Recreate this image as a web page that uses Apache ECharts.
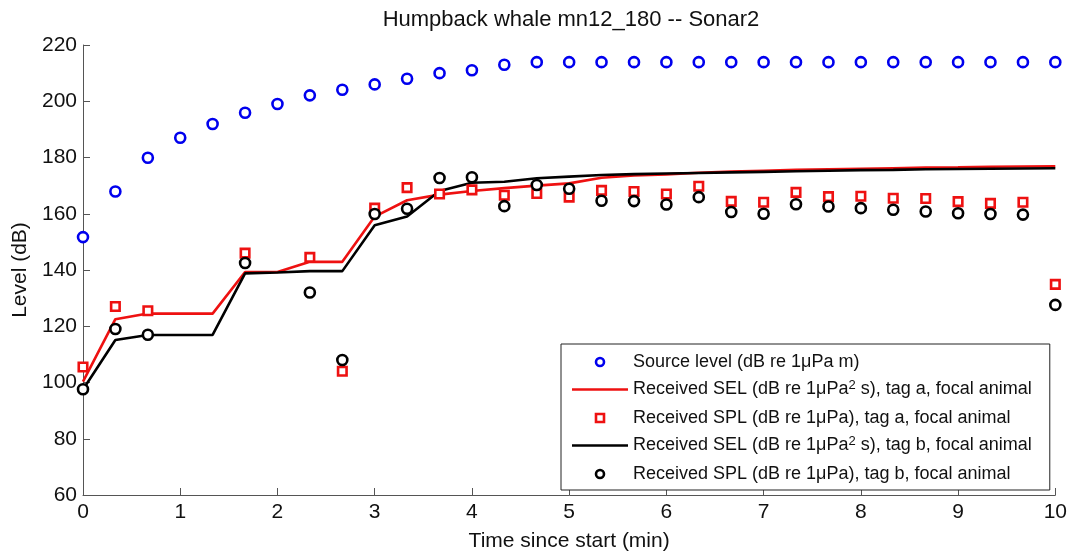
<!DOCTYPE html>
<html>
<head>
<meta charset="utf-8">
<title>Humpback whale mn12_180 -- Sonar2</title>
<script src="https://cdn.jsdelivr.net/npm/echarts@6/dist/echarts.min.js"></script>
<style>
  html, body { margin: 0; padding: 0; background: #fff; }
  #main { width: 1070px; height: 559px; }
</style>
</head>
<body>
<div id="main"></div>
<script>
// time since start (min), one value every 20 s
var time = [0, 0.333, 0.667, 1, 1.333, 1.667, 2, 2.333, 2.667, 3, 3.333, 3.667, 4, 4.333, 4.667,
    5, 5.333, 5.667, 6, 6.333, 6.667, 7, 7.333, 7.667, 8, 8.333, 8.667, 9, 9.333, 9.667, 10];

// source level (dB re 1uPa m)
var sourceLevel = [151.7, 167.9, 179.9, 187, 191.9, 195.9, 199, 202.1, 204.1, 206, 208, 210, 211, 213, 213.9,
    213.9, 213.9, 213.9, 213.9, 213.9, 213.9, 213.9, 213.9, 213.9, 213.9, 213.9, 213.9, 213.9, 213.9, 213.9, 213.9];

// cumulative SEL, tag a / tag b
var selA = [100.3, 122.5, 124.5, 124.5, 124.5, 139.3, 139.3, 142.9, 142.9, 159, 164.8, 166.8, 168.1, 169.1, 170,
    170.8, 172.8, 173.6, 174, 174.6, 175, 175.3, 175.6, 175.8, 176, 176.2, 176.4, 176.5, 176.7, 176.8, 176.9];
var selB = [97.5, 115.1, 116.9, 116.9, 116.9, 138.8, 139.1, 139.6, 139.6, 155.9, 159, 168.1, 171, 171.4, 172.6,
    173.2, 173.8, 174.1, 174.3, 174.5, 174.7, 174.9, 175.1, 175.3, 175.5, 175.6, 175.8, 175.9, 176, 176.1, 176.2];

// SPL per 20 s window, tag a / tag b (null = no value)
var splA = [105.5, 127, 125.5, null, null, 146, null, 144.5, 104, 162, 169.3, 167, 168.5, 166.6, 167.2,
    165.9, 168.3, 167.9, 167, 169.8, 164.4, 164.1, 167.6, 166.1, 166.2, 165.5, 165.4, 164.3, 163.7, 164.1, 134.9];
var splB = [97.6, 119, 117, null, null, 142.5, null, 132, 108, 159.9, 161.8, 172.7, 173, 162.7, 170.2,
    168.9, 164.6, 164.5, 163.3, 165.9, 160.6, 160, 163.4, 162.6, 162, 161.4, 160.8, 160.2, 159.9, 159.7, 127.6];

var names = [
    'Source level (dB re 1μPa m)',
    'Received SEL (dB re 1μPa² s), tag a, focal animal',
    'Received SPL (dB re 1μPa), tag a, focal animal',
    'Received SEL (dB re 1μPa² s), tag b, focal animal',
    'Received SPL (dB re 1μPa), tag b, focal animal'
];

function pairs(vals) {
    var out = [];
    for (var i = 0; i < time.length; i++) {
        if (vals[i] !== null) out.push([time[i], vals[i]]);
    }
    return out;
}

var font = 'Liberation Sans, Arial, Helvetica, sans-serif';
var lineIcon = 'path://M0,0L56,0L56,2.5L0,2.5Z';
var squareIcon = 'path://M0,0L10,0L10,10L0,10Z';

var chart = echarts.init(document.getElementById('main'));

chart.setOption({
    animation: false,
    backgroundColor: '#fff',
    title: {
        text: 'Humpback whale mn12_180 -- Sonar2',
        left: 566,
        textAlign: 'center',
        top: 4,
        textStyle: { fontFamily: font, fontSize: 22, fontWeight: 'normal', color: '#111' }
    },
    grid: { left: 83, right: 14, top: 45, bottom: 64, containLabel: false },
    legend: {
        orient: 'vertical',
        left: 561,
        top: 344,
        padding: [7, 18, 5, 11],
        itemWidth: 56,
        itemHeight: 8,
        itemGap: 5.5,
        backgroundColor: '#fff',
        borderColor: '#222',
        borderWidth: 1,
        borderRadius: 0,
        data: [
            { name: names[0], itemStyle: { borderWidth: 2.6 } },
            { name: names[1], icon: lineIcon },
            { name: names[2], icon: squareIcon, itemStyle: { borderWidth: 2.6 } },
            { name: names[3], icon: lineIcon },
            { name: names[4], itemStyle: { borderWidth: 2.6 } }
        ],
        formatter: function (name) {
            return name.replace('²', '{sup|2}');
        },
        textStyle: {
            fontFamily: font,
            fontSize: 18,
            color: '#111',
            lineHeight: 22,
            rich: {
                sup: { fontFamily: font, fontSize: 13, color: '#111', verticalAlign: 'top', lineHeight: 22, padding: [0, 0, 10, 0] }
            }
        }
    },
    xAxis: {
        type: 'value',
        min: 0,
        max: 10,
        interval: 1,
        name: 'Time since start (min)',
        nameLocation: 'middle',
        nameGap: 36,
        nameTextStyle: { fontFamily: font, fontSize: 21, color: '#111' },
        axisLine: { lineStyle: { color: '#555', width: 1 } },
        axisTick: { inside: true, length: 7, lineStyle: { color: '#555' } },
        axisLabel: { fontFamily: font, fontSize: 21, color: '#111', margin: 7 },
        splitLine: { show: false }
    },
    yAxis: {
        type: 'value',
        min: 60,
        max: 220,
        interval: 20,
        name: 'Level (dB)',
        nameLocation: 'middle',
        nameGap: 45,
        nameTextStyle: { fontFamily: font, fontSize: 21, color: '#111' },
        axisLine: { show: true, lineStyle: { color: '#555', width: 1 } },
        axisTick: { show: true, inside: true, length: 7, lineStyle: { color: '#555' } },
        axisLabel: { fontFamily: font, fontSize: 21, color: '#111', margin: 6 },
        splitLine: { show: false }
    },
    series: [
        {
            name: names[0],
            type: 'scatter',
            symbol: 'circle',
            symbolSize: 10,
            itemStyle: { color: '#fff', borderColor: '#0000ee', borderWidth: 2.6, opacity: 1 },
            z: 3,
            data: pairs(sourceLevel)
        },
        {
            name: names[1],
            type: 'line',
            symbol: 'none',
            lineStyle: { color: '#ee1111', width: 2.6 },
            itemStyle: { color: '#ee1111' },
            z: 2,
            data: pairs(selA)
        },
        {
            name: names[2],
            type: 'scatter',
            symbol: 'rect',
            symbolSize: 8.5,
            itemStyle: { color: '#fff', borderColor: '#ee1111', borderWidth: 2.6, opacity: 1 },
            z: 3,
            data: pairs(splA)
        },
        {
            name: names[3],
            type: 'line',
            symbol: 'none',
            lineStyle: { color: '#000', width: 2.6 },
            itemStyle: { color: '#000' },
            z: 2,
            data: pairs(selB)
        },
        {
            name: names[4],
            type: 'scatter',
            symbol: 'circle',
            symbolSize: 10,
            itemStyle: { color: '#fff', borderColor: '#000', borderWidth: 2.6, opacity: 1 },
            z: 4,
            data: pairs(splB)
        }
    ]
});
</script>
</body>
</html>
